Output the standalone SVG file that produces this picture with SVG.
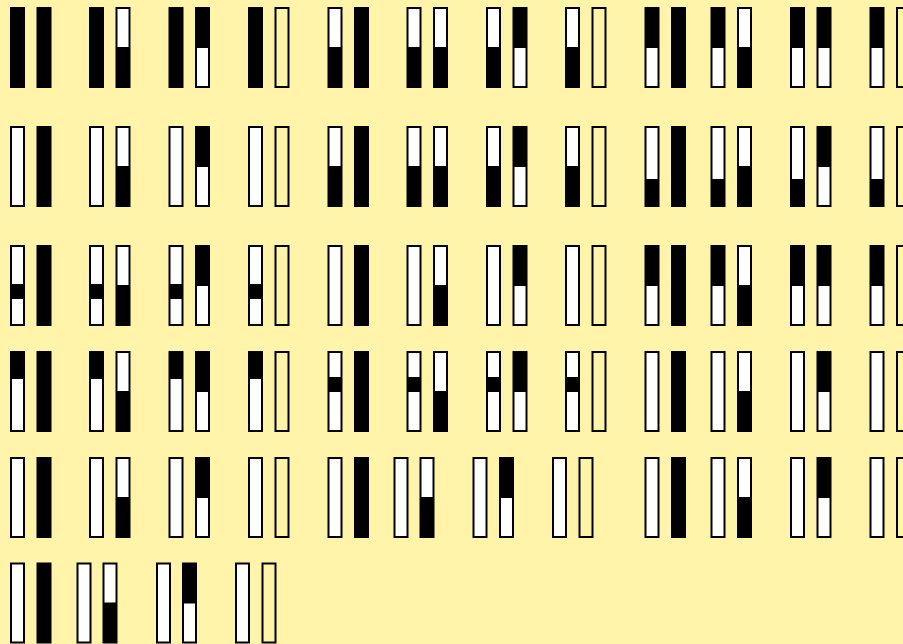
<svg xmlns="http://www.w3.org/2000/svg" xmlns:xlink="http://www.w3.org/1999/xlink" width="903" height="644" viewBox="0 0 903 644">
<style>
.o{fill:none;stroke:#000;stroke-width:2}
.w{fill:#fff}
.k{fill:#000}
</style>
<defs>
<g id="bB"><rect class="k" x="1" y="1" width="13" height="79"/><rect class="o" x="1" y="1" width="13" height="79"/></g>
<g id="bW"><rect class="w" x="1" y="1" width="13" height="79"/><rect class="o" x="1" y="1" width="13" height="79"/></g>
<g id="bE"><rect class="o" x="1" y="1" width="13" height="79"/></g>
<g id="bWB"><rect class="w" x="1" y="1" width="13" height="79"/><rect class="k" x="1" y="40" width="13" height="40"/><rect class="o" x="1" y="1" width="13" height="79"/></g>
<g id="bBW"><rect class="w" x="1" y="1" width="13" height="79"/><rect class="k" x="1" y="1" width="13" height="40"/><rect class="o" x="1" y="1" width="13" height="79"/></g>
<g id="bBW28"><rect class="w" x="1" y="1" width="13" height="79"/><rect class="k" x="1" y="1" width="13" height="27"/><rect class="o" x="1" y="1" width="13" height="79"/></g>
<g id="bWB53"><rect class="w" x="1" y="1" width="13" height="79"/><rect class="k" x="1" y="53" width="13" height="27"/><rect class="o" x="1" y="1" width="13" height="79"/></g>
<g id="bM39"><rect class="w" x="1" y="1" width="13" height="79"/><rect class="k" x="1" y="39" width="13" height="15"/><rect class="o" x="1" y="1" width="13" height="79"/></g>
<g id="bM26"><rect class="w" x="1" y="1" width="13" height="79"/><rect class="k" x="1" y="26" width="13" height="15"/><rect class="o" x="1" y="1" width="13" height="79"/></g>
</defs>
<rect width="903" height="644" fill="#FFF4AA"/>
<g id="connectors"/>
<!-- Row 1 -->
<g id="r1c1"><use xlink:href="#bB" x="10" y="7"/><use xlink:href="#bB" x="36.5" y="7"/></g>
<g id="r1c2"><use xlink:href="#bB" x="89" y="7"/><use xlink:href="#bWB" x="115.5" y="7"/></g>
<g id="r1c3"><use xlink:href="#bB" x="168.5" y="7"/><use xlink:href="#bBW" x="195" y="7"/></g>
<g id="r1c4"><use xlink:href="#bB" x="248" y="7"/><use xlink:href="#bE" x="274.5" y="7"/></g>
<g id="r1c5"><use xlink:href="#bWB" x="327.5" y="7"/><use xlink:href="#bB" x="354" y="7"/></g>
<g id="r1c6"><use xlink:href="#bWB" x="406.5" y="7"/><use xlink:href="#bWB" x="433" y="7"/></g>
<g id="r1c7"><use xlink:href="#bWB" x="486" y="7"/><use xlink:href="#bBW" x="512.5" y="7"/></g>
<g id="r1c8"><use xlink:href="#bWB" x="565" y="7"/><use xlink:href="#bE" x="591.5" y="7"/></g>
<g id="r1c9"><use xlink:href="#bBW" x="644.5" y="7"/><use xlink:href="#bB" x="671" y="7"/></g>
<g id="r1c10"><use xlink:href="#bBW" x="710.5" y="7"/><use xlink:href="#bWB" x="737" y="7"/></g>
<g id="r1c11"><use xlink:href="#bBW" x="790" y="7"/><use xlink:href="#bBW" x="816.5" y="7"/></g>
<g id="r1c12"><use xlink:href="#bBW" x="869.5" y="7"/><use xlink:href="#bE" x="896" y="7"/></g>
<!-- Row 2 -->
<g id="r2c1"><use xlink:href="#bW" x="10" y="126"/><use xlink:href="#bB" x="36.5" y="126"/></g>
<g id="r2c2"><use xlink:href="#bW" x="89" y="126"/><use xlink:href="#bWB" x="115.5" y="126"/></g>
<g id="r2c3"><use xlink:href="#bW" x="168.5" y="126"/><use xlink:href="#bBW" x="195" y="126"/></g>
<g id="r2c4"><use xlink:href="#bW" x="248" y="126"/><use xlink:href="#bE" x="274.5" y="126"/></g>
<g id="r2c5"><use xlink:href="#bWB" x="327.5" y="126"/><use xlink:href="#bB" x="354" y="126"/></g>
<g id="r2c6"><use xlink:href="#bWB" x="406.5" y="126"/><use xlink:href="#bWB" x="433" y="126"/></g>
<g id="r2c7"><use xlink:href="#bWB" x="486" y="126"/><use xlink:href="#bBW" x="512.5" y="126"/></g>
<g id="r2c8"><use xlink:href="#bWB" x="565" y="126"/><use xlink:href="#bE" x="591.5" y="126"/></g>
<g id="r2c9"><use xlink:href="#bWB53" x="644.5" y="126"/><use xlink:href="#bB" x="671" y="126"/></g>
<g id="r2c10"><use xlink:href="#bWB53" x="710.5" y="126"/><use xlink:href="#bWB" x="737" y="126"/></g>
<g id="r2c11"><use xlink:href="#bWB53" x="790" y="126"/><use xlink:href="#bBW" x="816.5" y="126"/></g>
<g id="r2c12"><use xlink:href="#bWB53" x="869.5" y="126"/><use xlink:href="#bE" x="896" y="126"/></g>
<!-- Row 3 -->
<g id="r3c1"><use xlink:href="#bM39" x="10" y="245"/><use xlink:href="#bB" x="36.5" y="245"/></g>
<g id="r3c2"><use xlink:href="#bM39" x="89" y="245"/><use xlink:href="#bWB" x="115.5" y="245"/></g>
<g id="r3c3"><use xlink:href="#bM39" x="168.5" y="245"/><use xlink:href="#bBW" x="195" y="245"/></g>
<g id="r3c4"><use xlink:href="#bM39" x="248" y="245"/><use xlink:href="#bE" x="274.5" y="245"/></g>
<g id="r3c5"><use xlink:href="#bW" x="327.5" y="245"/><use xlink:href="#bB" x="354" y="245"/></g>
<g id="r3c6"><use xlink:href="#bW" x="406.5" y="245"/><use xlink:href="#bWB" x="433" y="245"/></g>
<g id="r3c7"><use xlink:href="#bW" x="486" y="245"/><use xlink:href="#bBW" x="512.5" y="245"/></g>
<g id="r3c8"><use xlink:href="#bW" x="565" y="245"/><use xlink:href="#bE" x="591.5" y="245"/></g>
<g id="r3c9"><use xlink:href="#bBW" x="644.5" y="245"/><use xlink:href="#bB" x="671" y="245"/></g>
<g id="r3c10"><use xlink:href="#bBW" x="710.5" y="245"/><use xlink:href="#bWB" x="737" y="245"/></g>
<g id="r3c11"><use xlink:href="#bBW" x="790" y="245"/><use xlink:href="#bBW" x="816.5" y="245"/></g>
<g id="r3c12"><use xlink:href="#bBW" x="869.5" y="245"/><use xlink:href="#bE" x="896" y="245"/></g>
<!-- Row 4 -->
<g id="r4c1"><use xlink:href="#bBW28" x="10" y="351"/><use xlink:href="#bB" x="36.5" y="351"/></g>
<g id="r4c2"><use xlink:href="#bBW28" x="89" y="351"/><use xlink:href="#bWB" x="115.5" y="351"/></g>
<g id="r4c3"><use xlink:href="#bBW28" x="168.5" y="351"/><use xlink:href="#bBW" x="195" y="351"/></g>
<g id="r4c4"><use xlink:href="#bBW28" x="248" y="351"/><use xlink:href="#bE" x="274.5" y="351"/></g>
<g id="r4c5"><use xlink:href="#bM26" x="327.5" y="351"/><use xlink:href="#bB" x="354" y="351"/></g>
<g id="r4c6"><use xlink:href="#bM26" x="406.5" y="351"/><use xlink:href="#bWB" x="433" y="351"/></g>
<g id="r4c7"><use xlink:href="#bM26" x="486" y="351"/><use xlink:href="#bBW" x="512.5" y="351"/></g>
<g id="r4c8"><use xlink:href="#bM26" x="565" y="351"/><use xlink:href="#bE" x="591.5" y="351"/></g>
<g id="r4c9"><use xlink:href="#bW" x="644.5" y="351"/><use xlink:href="#bB" x="671" y="351"/></g>
<g id="r4c10"><use xlink:href="#bW" x="710.5" y="351"/><use xlink:href="#bWB" x="737" y="351"/></g>
<g id="r4c11"><use xlink:href="#bW" x="790" y="351"/><use xlink:href="#bBW" x="816.5" y="351"/></g>
<g id="r4c12"><use xlink:href="#bW" x="869.5" y="351"/><use xlink:href="#bE" x="896" y="351"/></g>
<!-- Row 5 -->
<g id="r5c1"><use xlink:href="#bW" x="10" y="457"/><use xlink:href="#bB" x="36.5" y="457"/></g>
<g id="r5c2"><use xlink:href="#bW" x="89" y="457"/><use xlink:href="#bWB" x="115.5" y="457"/></g>
<g id="r5c3"><use xlink:href="#bW" x="168.5" y="457"/><use xlink:href="#bBW" x="195" y="457"/></g>
<g id="r5c4"><use xlink:href="#bW" x="248" y="457"/><use xlink:href="#bE" x="274.5" y="457"/></g>
<g id="r5c5"><use xlink:href="#bW" x="327.5" y="457"/><use xlink:href="#bB" x="354" y="457"/></g>
<g id="r5c6"><use xlink:href="#bW" x="393.5" y="457"/><use xlink:href="#bWB" x="419.5" y="457"/></g>
<g id="r5c7"><use xlink:href="#bW" x="472.5" y="457"/><use xlink:href="#bBW" x="499" y="457"/></g>
<g id="r5c8"><use xlink:href="#bW" x="552" y="457"/><use xlink:href="#bE" x="578.5" y="457"/></g>
<g id="r5c9"><use xlink:href="#bW" x="644.5" y="457"/><use xlink:href="#bB" x="671" y="457"/></g>
<g id="r5c10"><use xlink:href="#bW" x="710.5" y="457"/><use xlink:href="#bWB" x="737" y="457"/></g>
<g id="r5c11"><use xlink:href="#bW" x="790" y="457"/><use xlink:href="#bBW" x="816.5" y="457"/></g>
<g id="r5c12"><use xlink:href="#bW" x="869.5" y="457"/><use xlink:href="#bE" x="896" y="457"/></g>
<!-- Row 6 -->
<g id="r6c1"><use xlink:href="#bW" x="10" y="562.5"/><use xlink:href="#bB" x="36.5" y="562.5"/></g>
<g id="r6c2"><use xlink:href="#bW" x="76.5" y="562.5"/><use xlink:href="#bWB" x="102.5" y="562.5"/></g>
<g id="r6c3"><use xlink:href="#bW" x="156" y="562.5"/><use xlink:href="#bBW" x="182" y="562.5"/></g>
<g id="r6c4"><use xlink:href="#bW" x="235" y="562.5"/><use xlink:href="#bE" x="261.5" y="562.5"/></g>
</svg>
